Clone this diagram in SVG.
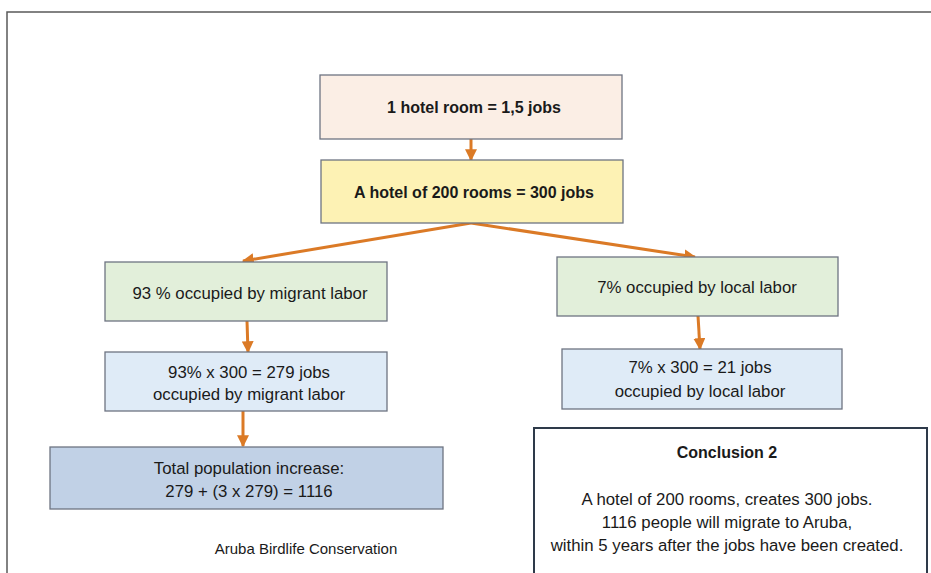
<svg xmlns="http://www.w3.org/2000/svg" width="931" height="573" viewBox="0 0 931 573">
<style>
.box{stroke:#6e7482;stroke-width:1.3}
.t{font-family:"Liberation Sans",Arial,sans-serif;font-size:16.8px;fill:#1a1a1a;text-anchor:middle}
.b{font-weight:bold;font-size:16px}
.c{stroke:#db7a26;stroke-width:3;fill:none;marker-end:url(#ah)}
</style>
<defs>
<marker id="ah" viewBox="0 0 10 10" refX="9" refY="5" markerWidth="4" markerHeight="4" orient="auto" markerUnits="strokeWidth">
<path d="M0,0 L10,5 L0,10 z" fill="#db7a26"/>
</marker>
</defs>
<rect width="931" height="573" fill="#ffffff"/>
<path d="M7,573 V12 H940" fill="none" stroke="#5a5a5a" stroke-width="1.5"/>
<g id="connectors">
<line class="c" x1="471" y1="139" x2="471" y2="160"/>
<line class="c" x1="471" y1="223" x2="243" y2="261"/>
<line class="c" x1="471" y1="223" x2="695" y2="257"/>
<line class="c" x1="247" y1="321" x2="248" y2="352"/>
<line class="c" x1="243" y1="411" x2="243" y2="446"/>
<line class="c" x1="698" y1="316" x2="700" y2="349"/>
</g>
<g id="n1">
<rect class="box" x="320" y="75" width="302" height="64" fill="#fbeee5"/>
<text class="t b" x="474" y="113">1 hotel room = 1,5 jobs</text>
</g>
<g id="n2">
<rect class="box" x="321" y="160" width="302" height="63" fill="#fdf2b4"/>
<text class="t b" x="474" y="198">A hotel of 200 rooms = 300 jobs</text>
</g>
<g id="n3">
<rect class="box" x="105" y="262" width="282" height="59" fill="#e2efda"/>
<text class="t" x="250" y="299">93 % occupied by migrant labor</text>
</g>
<g id="n4">
<rect class="box" x="105" y="352" width="282" height="59" fill="#dfebf7"/>
<text class="t" x="249" y="378">93% x 300 = 279 jobs</text>
<text class="t" x="249" y="400">occupied by migrant labor</text>
</g>
<g id="n5">
<rect class="box" x="50" y="447" width="393" height="62" fill="#c1d1e6"/>
<text class="t" x="249" y="474">Total population increase:</text>
<text class="t" x="249" y="497">279 + (3 x 279) = 1116</text>
</g>
<g id="n6">
<rect class="box" x="557" y="257" width="281" height="59" fill="#e2efda"/>
<text class="t" x="697" y="293">7% occupied by local labor</text>
</g>
<g id="n7">
<rect class="box" x="562" y="349" width="280" height="60" fill="#dfebf7"/>
<text class="t" x="700" y="373">7% x 300 = 21 jobs</text>
<text class="t" x="700" y="397">occupied by local labor</text>
</g>
<g id="n8">
<rect x="534" y="428" width="393" height="160" fill="#ffffff" stroke="#2e3a4a" stroke-width="2"/>
<text class="t b" x="727" y="458">Conclusion 2</text>
<text class="t" x="727" y="505">A hotel of 200 rooms, creates 300 jobs.</text>
<text class="t" x="727" y="528">1116 people will migrate to Aruba,</text>
<text class="t" x="727" y="551">within 5 years after the jobs have been created.</text>
</g>
<g id="footer">
<text class="t" x="306" y="554" style="font-size:15px">Aruba Birdlife Conservation</text>
</g>
</svg>
